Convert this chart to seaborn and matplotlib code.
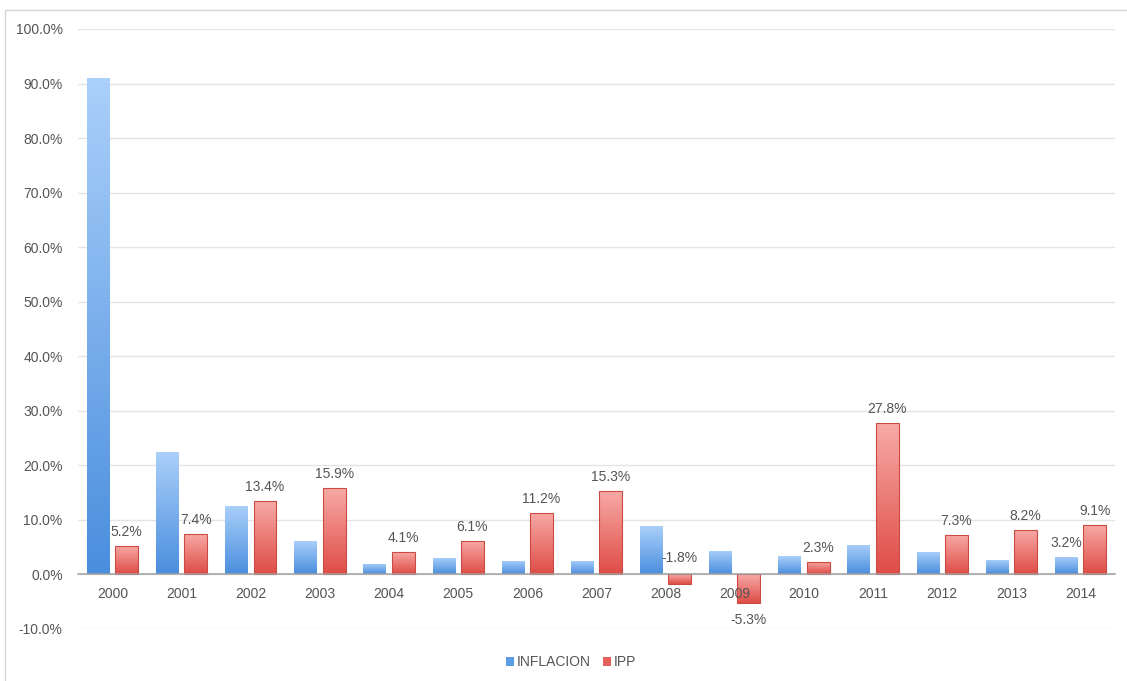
import numpy as np
import pandas as pd
import matplotlib
matplotlib.use("Agg")
import matplotlib.pyplot as plt
from matplotlib.colors import LinearSegmentedColormap
from matplotlib.lines import Line2D
from matplotlib.patches import Patch
from matplotlib.ticker import FuncFormatter
import seaborn as sns

# Datos anuales (%)
anios = ["2000", "2001", "2002", "2003", "2004", "2005", "2006", "2007",
         "2008", "2009", "2010", "2011", "2012", "2013", "2014"]
inflacion = [91.0, 22.4, 12.5, 6.1, 2.0, 3.1, 2.4, 2.4, 8.8, 4.3, 3.3, 5.4, 4.2, 2.7, 3.2]
ipp = [5.2, 7.4, 13.4, 15.9, 4.1, 6.1, 11.2, 15.3, -1.8, -5.3, 2.3, 27.8, 7.3, 8.2, 9.1]
series = ["INFLACION", "IPP"]
# años de inflación que llevan etiqueta de valor
inflacion_etiquetadas = ["2014"]
y_ticks = list(range(-10, 101, 10))

sns.set_style("white")
plt.rcParams["font.family"] = ["Liberation Sans", "DejaVu Sans"]
plt.rcParams["font.size"] = 10

GRIS_TEXTO = "#555555"
AZUL_CLARO, AZUL_OSCURO = "#abd0fa", "#4a8ede"
ROJO_CLARO, ROJO_OSCURO = "#f8aba7", "#df4c46"

df = pd.DataFrame({
    "anio": anios * 2,
    "valor": inflacion + ipp,
    "serie": [series[0]] * len(anios) + [series[1]] * len(anios),
})

W, H = 1127, 681
fig = plt.figure(figsize=(W / 100, H / 100), dpi=100)
ax = fig.add_axes([78 / W, 1 - 629 / H, (1115 - 78) / W, (629 - 29) / H])

sns.barplot(data=df, x="anio", y="valor", hue="serie", hue_order=series,
            palette=[AZUL_OSCURO, ROJO_OSCURO], width=0.82, gap=0.19,
            ax=ax, legend=False, zorder=3)


def degradado(barra, claro, oscuro, borde):
    x, w = barra.get_x(), barra.get_width()
    y, h = barra.get_y(), barra.get_height()
    y0, y1 = min(y, y + h), max(y, y + h)
    cmap = LinearSegmentedColormap.from_list("g", [oscuro, claro])
    grad = np.linspace(0, 1, 256).reshape(-1, 1)
    im = ax.imshow(grad, cmap=cmap, extent=(x, x + w, y0, y1), origin="lower",
                   aspect="auto", interpolation="bilinear", zorder=3)
    im.set_clip_path(barra)
    barra.set_facecolor("none")
    barra.set_zorder(4)
    if borde:
        barra.set_edgecolor(borde)
        barra.set_linewidth(0.8)
    else:
        barra.set_linewidth(0)


cont_inf, cont_ipp = ax.containers[0], ax.containers[1]
for b in cont_inf:
    degradado(b, AZUL_CLARO, AZUL_OSCURO, None)
for b in cont_ipp:
    degradado(b, ROJO_CLARO, ROJO_OSCURO, "#cc4a45")

ax.set_xlim(-0.5, len(anios) - 0.5)
ax.set_ylim(y_ticks[0], y_ticks[-1])


def etiqueta(barra, valor):
    cx = barra.get_x() + barra.get_width() / 2
    if valor >= 0:
        base, dy = valor, 10
    elif valor > -3:
        # barra corta bajo el eje: la etiqueta va sobre la línea base
        base, dy = 0, 12
    else:
        base, dy = valor, -12
    ax.annotate(f"{valor:.1f}%", (cx, base), xytext=(0, dy), textcoords="offset points",
                ha="center", va="center", color=GRIS_TEXTO, fontsize=10, zorder=6)


for b, v in zip(cont_ipp, ipp):
    etiqueta(b, v)
for b, a, v in zip(cont_inf, anios, inflacion):
    if a in inflacion_etiquetadas:
        etiqueta(b, v)

# ejes y cuadrícula
ax.set_yticks(y_ticks)
ax.yaxis.set_major_formatter(FuncFormatter(lambda v, _: f"{v:.1f}%"))
ax.yaxis.grid(True, color="#e4e4e4", linewidth=1)
ax.set_axisbelow(True)
# los años se dibujan por encima de las barras
ax.xaxis.set_zorder(7)
for s in ["left", "right", "top"]:
    ax.spines[s].set_visible(False)
ax.spines["bottom"].set_position(("data", 0))
ax.spines["bottom"].set_color("#a0a0a0")
ax.spines["bottom"].set_linewidth(1.1)
ax.spines["bottom"].set_zorder(5)
ax.set_xticks(np.arange(-0.5, len(anios), 1), minor=True)
ax.tick_params(axis="x", which="major", length=0, pad=9, labelsize=10, labelcolor=GRIS_TEXTO)
ax.tick_params(axis="x", which="minor", direction="in", length=4, width=1, color="#a0a0a0")
ax.tick_params(axis="y", length=0, pad=11, labelsize=10, labelcolor=GRIS_TEXTO)
ax.set_xlabel("")
ax.set_ylabel("")

# leyenda
manejadores = [Patch(facecolor="#5d9be6", edgecolor="none"),
               Patch(facecolor="#e6605b", edgecolor="none")]
fig.legend(manejadores, series, loc="center", bbox_to_anchor=(571 / W, 1 - 662 / H),
           ncol=2, frameon=False, handlelength=0.6, handleheight=0.6,
           handletextpad=0.15, columnspacing=0.9, fontsize=10, labelcolor=GRIS_TEXTO)

# marco de la diapositiva
fig.add_artist(Line2D([5 / W, 5 / W], [0, 1 - 10 / H], transform=fig.transFigure,
                      color="#d6d6d6", linewidth=1))
fig.add_artist(Line2D([5 / W, 1], [1 - 10 / H, 1 - 10 / H], transform=fig.transFigure,
                      color="#d6d6d6", linewidth=1))

fig.savefig("out.png", dpi=100, facecolor="white")
